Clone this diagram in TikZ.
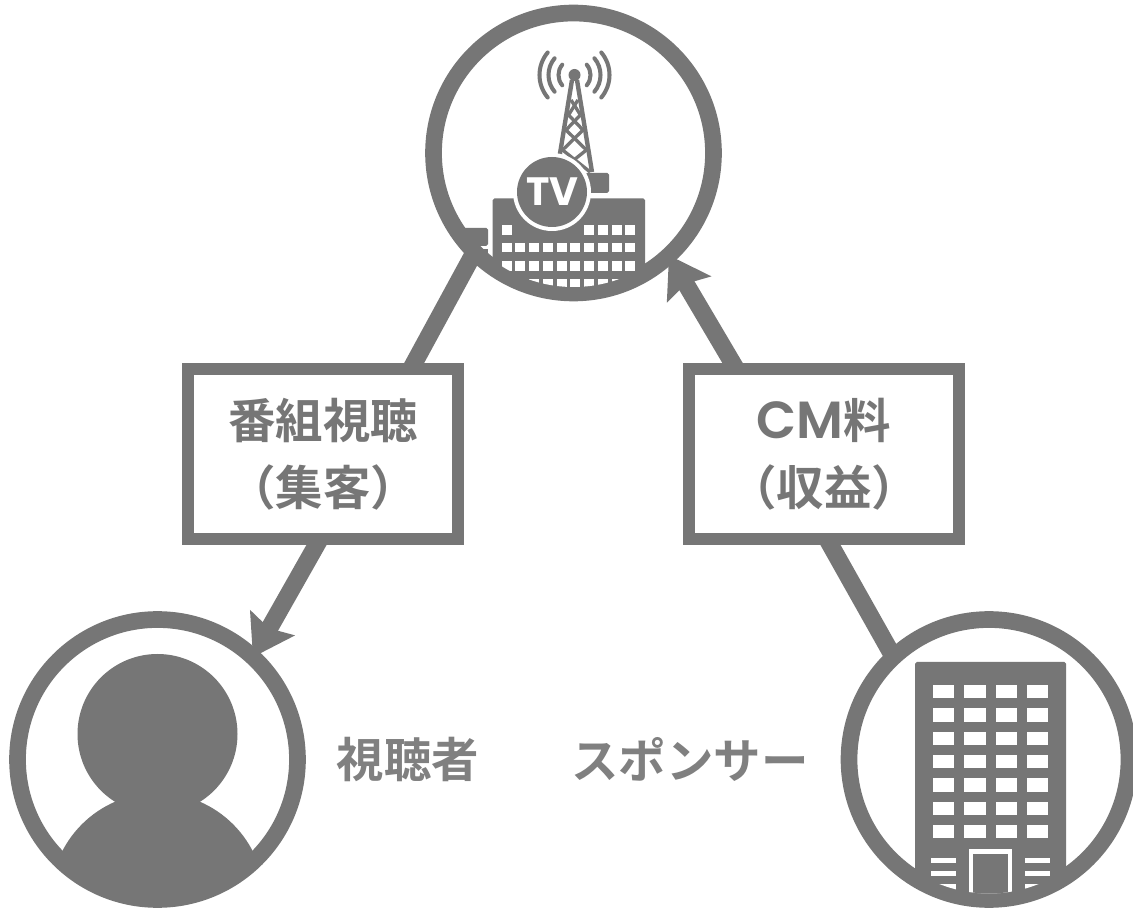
\documentclass[tikz,border=0pt]{standalone}
\usepackage{fontspec}
\setmainfont{Noto Sans CJK JP}[BoldFont={* Bold}]
\newfontfamily\latinfont{Poppins SemiBold}[Scale=1.1]
\newfontfamily\tvfont{Poppins}[BoldFont={* Bold}]
\usetikzlibrary{arrows.meta}
\definecolor{icongray}{HTML}{767676}
\definecolor{captiongray}{HTML}{808080}
\tikzset{
  ring/.style={circle,draw=icongray,line width=9.5pt,fill=white,minimum size=5.6cm,inner sep=0pt,outer sep=0pt},
  labelbox/.style={rectangle,draw=icongray,line width=7pt,fill=white,minimum width=5.41cm,minimum height=3.39cm,inner sep=0pt,outer sep=0pt,align=center,text=icongray,font=\fontsize{27}{38}\selectfont\bfseries},
  caption/.style={text=captiongray,inner sep=0pt,font=\fontsize{27}{32}\selectfont\bfseries},
  flow/.style={draw=icongray,line width=10pt},
  flowtip/.style={flow,-{Stealth[length=0.78cm,width=1cm,inset=0.12cm]}},
  window/.style={fill=white}
}
\begin{document}
\begin{tikzpicture}[x=0.02cm,y=-0.02cm]
	\useasboundingbox (0,0) rectangle (1133,908);
	\node [ring] (station) at (573.5,153) {};
	\node [ring] (viewer) at (157.5,759.5) {};
	\node [ring] (sponsor) at (989,759.5) {};
	\node [labelbox] (watching) at (323,454) {番組視聴\\（集客）};
	\node [labelbox] (fee) at (824,454) {{\latinfont\mdseries CM}料\\（収益）};
	\node [caption] (viewername) at (408,759) {視聴者};
	\node [caption] (sponsorname) at (690,759) {スポンサー};
	\draw [flow] (station.225) -- (watching.44);
	\draw [flowtip] (watching.268) -- (viewer.47);
	\draw [flow] (sponsor.133) -- (fee.272);
	\draw [flowtip] (fee.136.5) -- (station.313);
	% viewer
	\begin{scope}
		\clip (157.5,759.5) circle (134);
		\fill [icongray] (157.5,734) circle (80);
		\fill [icongray] (157.5,900) circle (107);
	\end{scope}
	% sponsor
	\begin{scope}
		\clip (989,759.5) circle (134);
		\fill [icongray,rounded corners=1pt] (915,662) rectangle (1066,930);
		\foreach \wx in {932.7,964.3,995.7,1027}
			\foreach \wy in {685,708.3,731.7,755,778.3,801.7,825}
				\fill [window] (\wx,\wy) rectangle +(21.3,13.3);
		\foreach \wy in {857.7,870.7,884}
		{
			\fill [window] (931,\wy) rectangle +(25,5.5);
			\fill [window] (1025,\wy) rectangle +(25,5.5);
		}
		\fill [window] (969,849.3) rectangle (1012,908);
		\fill [icongray] (973.3,854.3) rectangle (1007.7,908);
	\end{scope}
	% station
	\begin{scope}
		\clip (573.5,153) circle (134);
		\foreach \rr in {16,26,35}
		{
			\draw [icongray,line width=2.3pt,line cap=round] (574.5,75) ++(40:\rr) arc (40:-40:\rr);
			\draw [icongray,line width=2.3pt,line cap=round] (574.5,75) ++(140:\rr) arc (140:220:\rr);
		}
		\fill [icongray] (574.5,75) circle (6);
		\draw [icongray,line width=2.5pt] (572,80) -- (557,172) (577,80) -- (592,172);
		\foreach \ya/\yb in {100/115,115/130,130/150,150/172}
		{
			\draw [icongray,line width=1.9pt] ({574.5-(\ya-80)*.17},\ya) -- ({574.5+(\yb-80)*.17},\yb);
			\draw [icongray,line width=1.9pt] ({574.5+(\ya-80)*.17},\ya) -- ({574.5-(\yb-80)*.17},\yb);
		}
		\fill [icongray,rounded corners=1pt] (585,173) rectangle (609,193);
		\fill [icongray,rounded corners=1pt] (463,228) rectangle (488,246);
		\fill [icongray] (463,249) rectangle (488,290);
		\fill [icongray,rounded corners=1pt] (492.7,198.3) rectangle (645,310);
		\foreach \wk in {0,...,9}
			\foreach \wy in {242.7,261,279.3}
				\fill [window] ({501.7+13.73*\wk},\wy) rectangle +(10,9.7);
		\foreach \wk in {0,6,7,8,9}
			\fill [window] ({501.7+13.73*\wk},225) rectangle +(10,9.7);
		\fill [white] (552,192) circle (39);
		\fill [icongray] (552,192) circle (35);
	\end{scope}
	\node [text=white,inner sep=0pt,font=\fontsize{22.5}{22.5}\selectfont\bfseries\tvfont] (tvmark) at (552.5,192) {TV};
\end{tikzpicture}
\end{document}
